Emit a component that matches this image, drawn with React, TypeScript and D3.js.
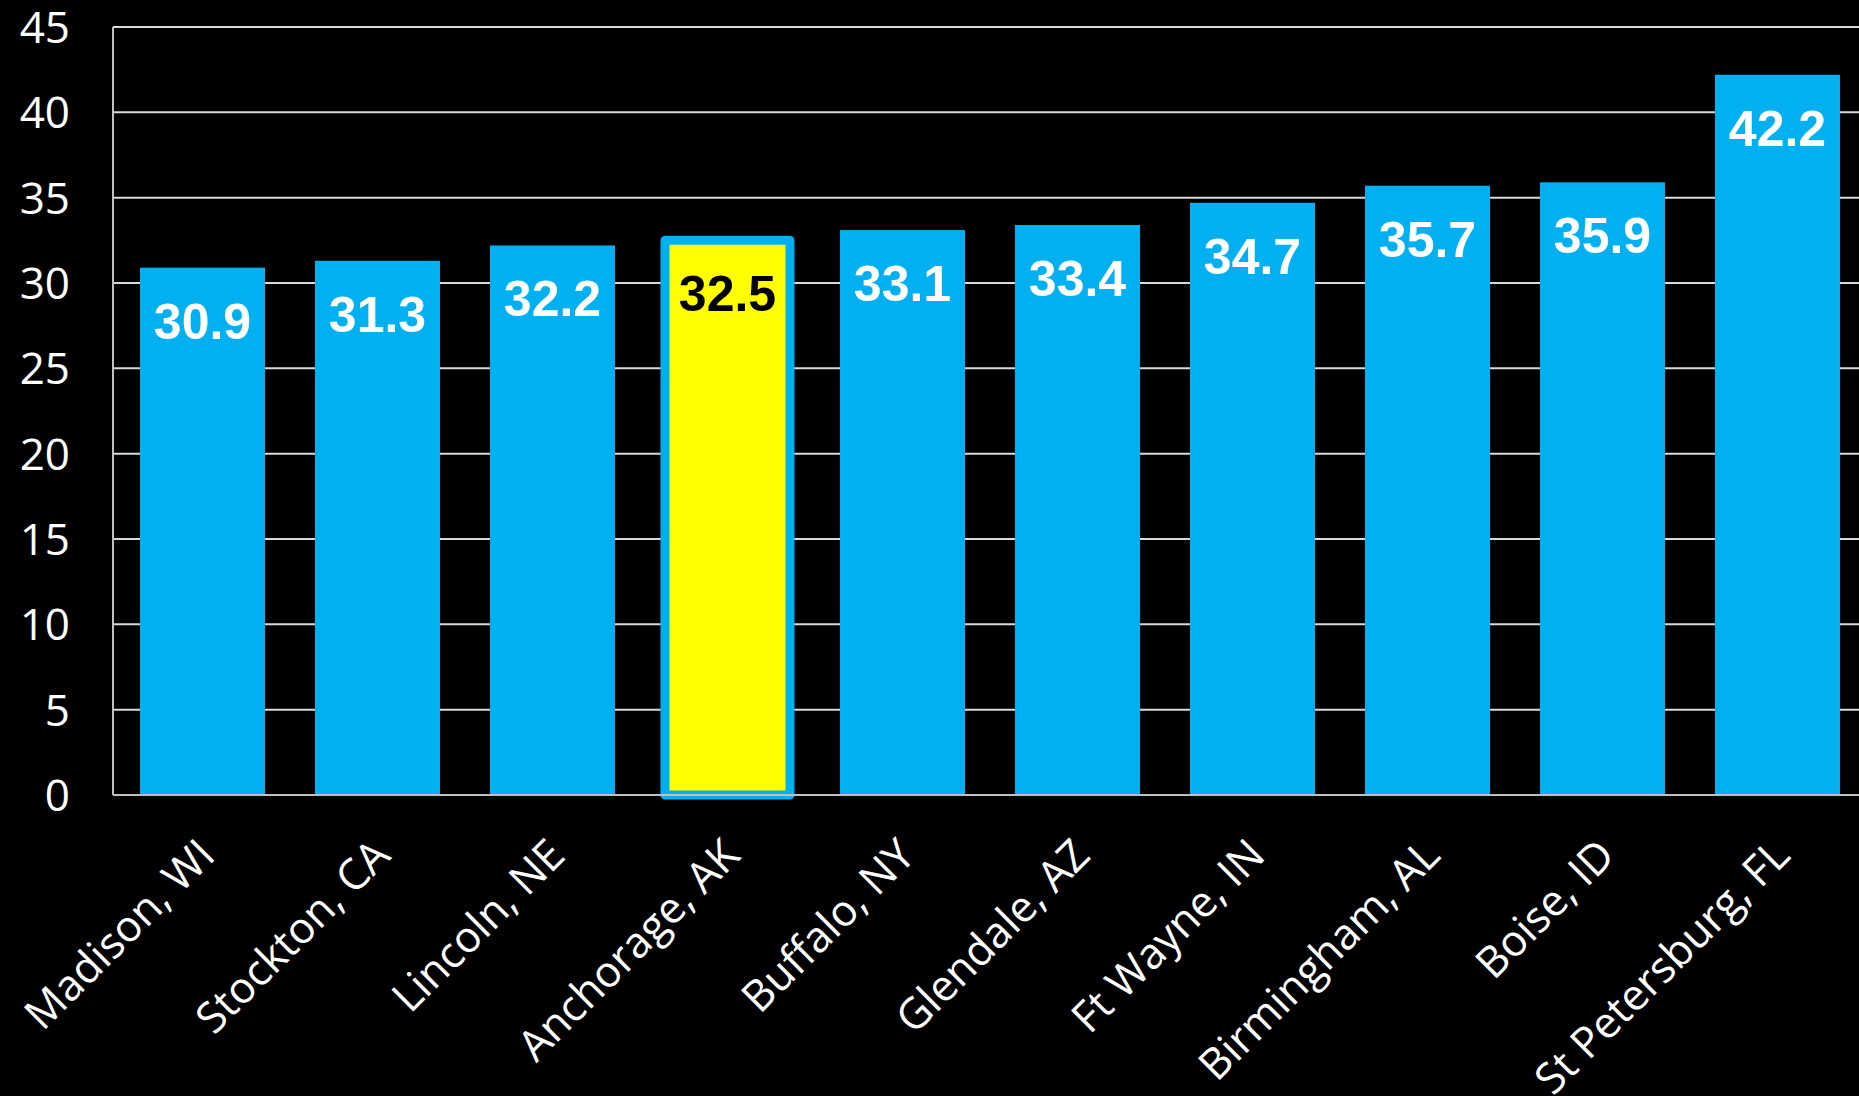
import React from "react";
import * as d3 from "d3";

const cities = ["Madison, WI", "Stockton, CA", "Lincoln, NE", "Anchorage, AK", "Buffalo, NY", "Glendale, AZ", "Ft Wayne, IN", "Birmingham, AL", "Boise, ID", "St Petersburg, FL"];
const values = [30.9, 31.3, 32.2, 32.5, 33.1, 33.4, 34.7, 35.7, 35.9, 42.2];
const highlighted = ["Anchorage, AK"];
const yTicks = [0, 5, 10, 15, 20, 25, 30, 35, 40, 45];

const W = 1859;
const H = 1096;

export default function App() {
  const x = d3.scaleBand<string>().domain(cities).range([115, 1865]).paddingInner(50 / 175).paddingOuter(25 / 175);
  const y = d3.scaleLinear().domain([0, 45]).range([795, 27]);
  const axisX = 113;

  return (
    <svg width={W} height={H} style={{ position: "absolute", left: 0, top: 0, background: "#000" }}>
      <rect x={0} y={0} width={W} height={H} fill="#000" />
      {yTicks.map((t) => (
        <g key={t}>
          {t > 0 && <line x1={axisX} x2={W} y1={y(t)} y2={y(t)} stroke="#d9d9d9" strokeWidth={2} />}
          <text x={70} y={y(t)} dy="0.36em" textAnchor="end" fill="#ffffff" fontFamily="'Open Sans', sans-serif" fontSize={44}>
            {t}
          </text>
        </g>
      ))}
      <line x1={axisX} x2={axisX} y1={y(45)} y2={y(0)} stroke="#bfbfbf" strokeWidth={2} />
      {cities.map((c, i) => {
        const hl = highlighted.includes(c);
        const bx = x(c)!;
        const bw = x.bandwidth();
        const top = y(values[i]);
        return (
          <g key={c}>
            <rect
              x={bx}
              y={top}
              width={bw}
              height={y(0) - top}
              fill={hl ? "#ffff00" : "#00b0f0"}
              stroke={hl ? "#00b0f0" : "none"}
              strokeWidth={hl ? 9 : 0}
              strokeLinejoin="round"
            />
            <text
              x={bx + bw / 2}
              y={top + 71}
              textAnchor="middle"
              fill={hl ? "#000000" : "#ffffff"}
              fontFamily="'Liberation Sans', Arial, sans-serif"
              fontWeight="bold"
              fontSize={50}
            >
              {values[i].toFixed(1)}
            </text>
          </g>
        );
      })}
      <line x1={axisX} x2={W} y1={y(0)} y2={y(0)} stroke="#bfbfbf" strokeWidth={2} />
      {cities.map((c) => {
        const cx = x(c)! + x.bandwidth() / 2;
        return (
          <text
            key={c}
            transform={`translate(${cx + 4},${847}) rotate(-45)`}
            dy="0.35em"
            textAnchor="end"
            fill="#ffffff"
            fontFamily="'Open Sans', sans-serif"
            fontSize={43}
          >
            {c}
          </text>
        );
      })}
    </svg>
  );
}
